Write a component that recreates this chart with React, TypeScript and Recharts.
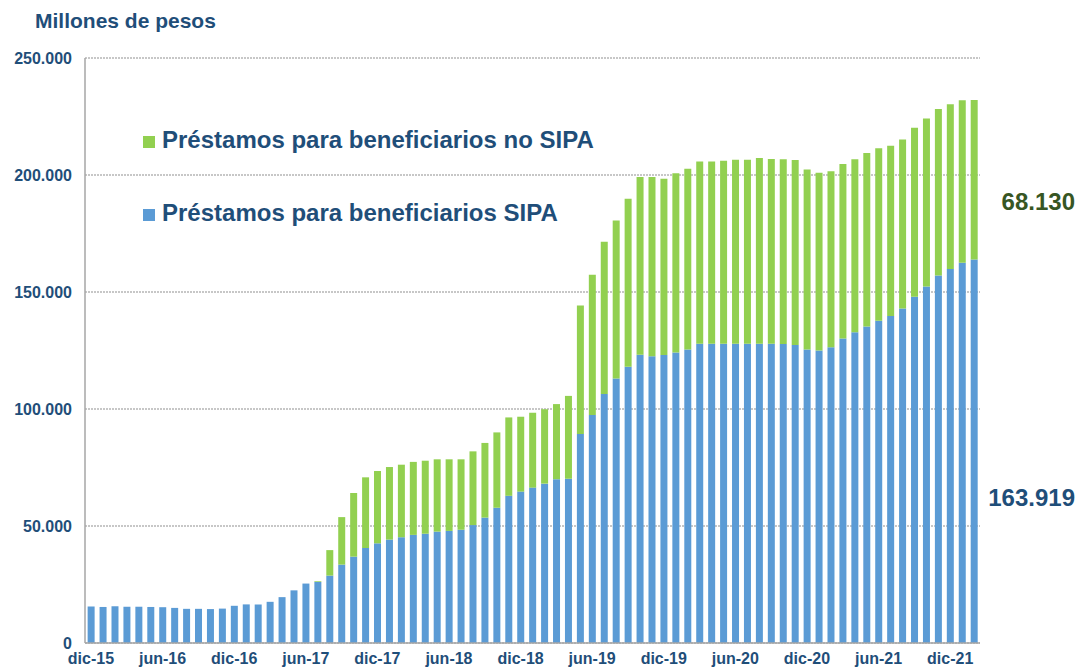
import React from "react";
import { BarChart, Bar, XAxis, YAxis, CartesianGrid } from "recharts";

const monthNames = ["ene", "feb", "mar", "abr", "may", "jun", "jul", "ago", "sep", "oct", "nov", "dic"];

// millones de pesos, dic-15 .. feb-22
const sipa = [
  15600, 15400, 15700, 15500, 15500, 15400, 15300, 15000, 14600, 14600,
  14500, 14700, 15900, 16500, 16400, 17600, 19600, 22500, 25400, 26100,
  28800, 33500, 36900, 40600, 42600, 44200, 45200, 46200, 46700, 47600,
  47900, 48400, 50400, 53600, 57800, 62900, 64700, 66400, 68100, 70000,
  70200, 89300, 97400, 106400, 113000, 118100, 123200, 122500, 123100, 124100,
  125400, 127900, 127900, 127900, 127900, 127900, 127900, 127900, 127800, 127400,
  125400, 125000, 126400, 130100, 132800, 135300, 137700, 139700, 142900, 148000,
  152400, 157000, 159800, 162500, 163919,
];

const noSipa = [
  0, 0, 0, 0, 0, 0, 0, 0, 0, 0,
  0, 0, 0, 0, 0, 0, 0, 0, 0, 300,
  10900, 20300, 27200, 30200, 30900, 31000, 31000, 31200, 31200, 30900,
  30600, 30100, 31500, 31900, 32200, 33500, 32000, 32000, 31800, 32100,
  35400, 54900, 60000, 65100, 67600, 71800, 75900, 76600, 75300, 76600,
  77300, 77900, 77900, 78200, 78600, 78600, 79400, 78900, 78900, 79000,
  77000, 76000, 75200, 74600, 73900, 74100, 73700, 72800, 72300, 72200,
  71700, 71200, 70400, 69400, 68130,
];

const yTicks = [0, 50000, 100000, 150000, 200000, 250000];

const seriesNames = ["Préstamos para beneficiarios no SIPA", "Préstamos para beneficiarios SIPA"];

const BLUE = "#5B9BD5";
const GREEN = "#92D050";
const NAVY = "#1F4E79";
const OLIVE = "#375623";
const FONT = "'Liberation Sans', Arial, sans-serif";

const fmt = (v: number) => {
  const s = Math.round(v).toString();
  return s.replace(/\B(?=(\d{3})+(?!\d))/g, ".");
};

const data = sipa.map((v, i) => {
  const m = (11 + i) % 12;
  const y = 15 + Math.floor((11 + i) / 12);
  return { mes: `${monthNames[m]}-${y}`, sipa: v, noSipa: noSipa[i] };
});

const tickStyle = { fill: NAVY, fontSize: 16, fontWeight: 700, fontFamily: FONT };

export default function App() {
  const lastSipa = sipa[sipa.length - 1];
  const lastNoSipa = noSipa[noSipa.length - 1];
  return (
    <div style={{ position: "absolute", left: 0, top: 0, width: 1078, height: 672, background: "#fff", fontFamily: FONT }}>
      <div style={{ position: "absolute", left: 35, top: 10, fontSize: 21, lineHeight: "21px", fontWeight: 700, color: NAVY }}>
        Millones de pesos
      </div>
      <BarChart
        width={1078}
        height={672}
        data={data}
        margin={{ top: 58, right: 98, left: 0, bottom: 4 }}
        barCategoryGap="22%"
      >
        <CartesianGrid vertical={false} stroke="#8f8f8f" strokeDasharray="2 1" />
        <XAxis
          dataKey="mes"
          interval={5}
          tickLine={false}
          height={25}
          tickMargin={4}
          tick={tickStyle}
          axisLine={{ stroke: "#a6a6a6", strokeWidth: 1.5 }}
        />
        <YAxis
          width={85}
          domain={[0, 250000]}
          ticks={yTicks}
          tickFormatter={fmt}
          tickLine={false}
          tickMargin={7}
          tick={tickStyle}
          axisLine={{ stroke: "#a6a6a6", strokeWidth: 1.5 }}
        />
        <Bar dataKey="sipa" stackId="a" fill={BLUE} isAnimationActive={false} />
        <Bar dataKey="noSipa" stackId="a" fill={GREEN} isAnimationActive={false} />
      </BarChart>
      {[GREEN, BLUE].map((c, i) => (
        <div
          key={c}
          style={{ position: "absolute", left: 143, top: 128 + i * 73, display: "flex", alignItems: "center", fontSize: 24, lineHeight: "24px", fontWeight: 700, color: NAVY }}
        >
          <span style={{ display: "inline-block", width: 12, height: 12, background: c, marginRight: 7, marginTop: 4 }} />
          {seriesNames[i]}
        </div>
      ))}
      <div style={{ position: "absolute", right: 3, top: 190, fontSize: 24, lineHeight: "24px", fontWeight: 700, color: OLIVE }}>
        {fmt(lastNoSipa)}
      </div>
      <div style={{ position: "absolute", right: 3, top: 486, fontSize: 24, lineHeight: "24px", fontWeight: 700, color: NAVY }}>
        {fmt(lastSipa)}
      </div>
    </div>
  );
}
